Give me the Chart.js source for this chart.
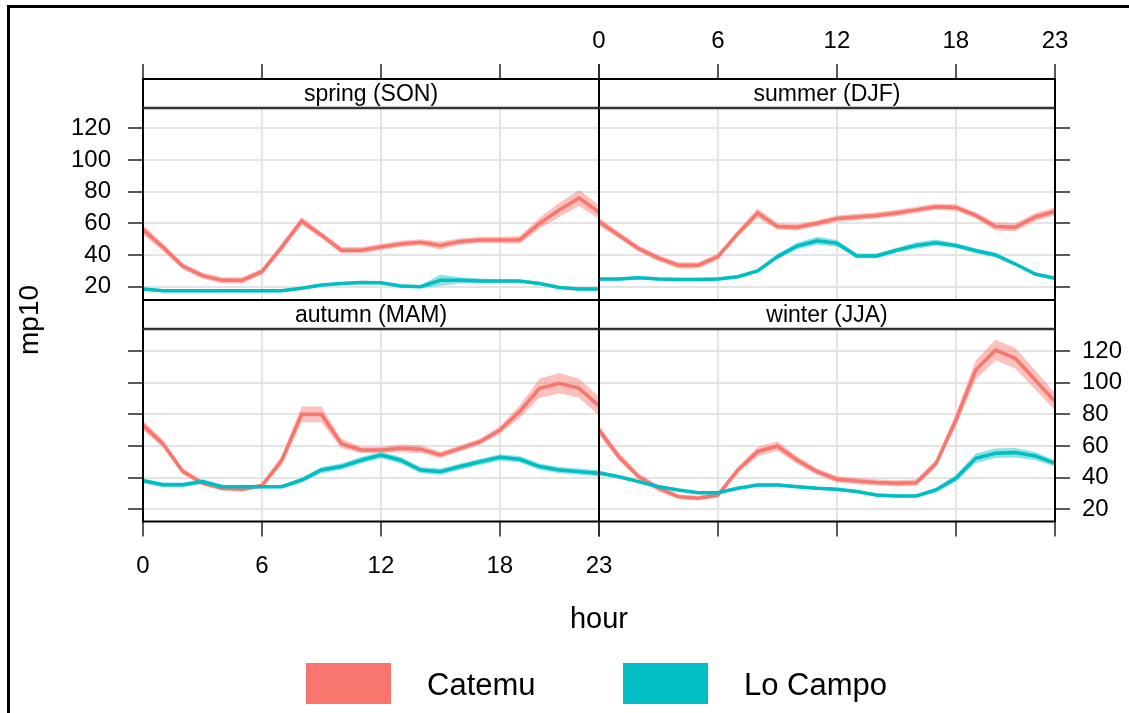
<!DOCTYPE html>
<html>
<head>
<meta charset="utf-8">
<script src="https://cdn.jsdelivr.net/npm/chart.js@4.4.1/dist/chart.umd.min.js"></script>
<style>
  body { margin: 0; width: 1129px; height: 713px; overflow: hidden; background: #fff;
         position: relative; font-family: "Liberation Sans", Arial, sans-serif; color: #000; }
  canvas { position: absolute; left: 0; top: 0; }
  .frame { position: absolute; left: 7px; top: 5px; width: 1300px; height: 900px; border: 3px solid #000; }
  .ytitle { position: absolute; left: 29px; top: 320px; font-size: 28px; line-height: 34px;
            white-space: nowrap; transform: translate(-50%, -50%) rotate(-90deg); }
  .xtitle { position: absolute; left: 0; width: 1198px; top: 601px; font-size: 29px;
            line-height: 34px; text-align: center; }
  .key { position: absolute; top: 663px; width: 85px; height: 41px; }
  .keytext { position: absolute; top: 667px; font-size: 31px; line-height: 36px; white-space: nowrap; }
</style>
</head>
<body>
<div class="frame"></div>
<canvas id="spring" width="1129" height="713"></canvas>
<canvas id="summer" width="1129" height="713"></canvas>
<canvas id="autumn" width="1129" height="713"></canvas>
<canvas id="winter" width="1129" height="713"></canvas>
<div class="ytitle">mp10</div>
<div class="xtitle">hour</div>
<div class="key" style="left:306px;background:#F8766D"></div>
<div class="keytext" style="left:427px">Catemu</div>
<div class="key" style="left:623px;background:#00BFC4"></div>
<div class="keytext" style="left:744px">Lo Campo</div>

<script>
// hours 0..23
const hours = [0,1,2,3,4,5,6,7,8,9,10,11,12,13,14,15,16,17,18,19,20,21,22,23];
const hourTicks = [0, 6, 12, 18, 23];
const valueTicks = [20, 40, 60, 80, 100, 120];
const seriesNames = ["Catemu", "Lo Campo"];

// mean mp10 and half width of the shaded interval, per season and site
const springCatemu     = [56,45,33,27,24,24,29.5,45,61.5,52.5,43,43,45,47,48,46,48.5,49.5,49.5,49.5,60,68.5,76,67];
const springCatemuCi   = [3,2.5,2,2,2,2,2,2.5,2.5,2,2,2,2,2,2,2.5,2,2,2,2.5,3.5,4.5,5,4.5];
const springLoCampo    = [18.5,17.5,17.5,17.5,17.5,17.5,17.5,17.5,19,21,22,22.7,22.5,20.4,20,24,24,23.6,23.6,23.6,22,19.5,18.5,18.5];
const springLoCampoCi  = [1,1,1,1,1,1,1,1,1,1,1,1,1,1,1,3.5,2,1.5,1,1,1,1,1,1];

const summerCatemu     = [61,52.5,44,38,33.5,33.5,39,53.5,66.5,58,57.5,60,63,64,65,66.5,68.5,70.5,70,65,58,57.5,64,67.5];
const summerCatemuCi   = [2.5,2,2,2,2,2,2,2,3,2,2,2,2,2,2,2,2,2,2,2,2.5,2.5,2.5,2.5];
const summerLoCampo    = [24.8,24.8,25.7,24.8,24.6,24.6,24.8,26.3,30,39,45.7,49,47.4,39.4,39.4,43,46,47.8,46,42.7,40,34.3,28,25.3];
const summerLoCampoCi  = [1,1,1,1,1,1,1,1,1,1.5,2,2.5,2,1.5,1.5,1.5,2,2,1.5,1.5,1.5,1,1,1];

const autumnCatemu     = [73,61.5,44,36.5,33.3,32.6,35,51,80,80,61.5,57.5,57.5,58.5,58,54.3,58.5,62.7,70,81.7,96.4,99.6,96.4,85.3];
const autumnCatemuCi   = [3,2.5,2,1.5,1.5,1.5,1.5,3,5,5,3,2,2,2.5,2.5,2,2,2,2.5,4,6,6.5,6,6];
const autumnLoCampo    = [38,35.5,35.5,37.5,34.3,34.3,34.3,34.3,38.5,44.8,47,51,54.3,51,44.8,43.8,47,50,52.8,51.6,47,44.8,43.8,42.7];
const autumnLoCampoCi  = [1.5,1.5,1.5,1.5,1,1,1,1,1.5,2,2,2,2,2,2,2,2,2,2,2,2,2,2,2];

const winterCatemu     = [70,53.3,40.6,33.3,28,27,29,44.8,56.4,60,51,43.8,39,37.9,37,36.4,36.8,49,76.4,108,120.6,115.4,101.7,88];
const winterCatemuCi   = [3,2.5,2,2,1.5,1.5,1.5,2,3,3,2.5,2,2,2,2,2,2,2.5,4,6,6.5,6.5,6,5.5];
const winterLoCampo    = [43,40.6,37.5,34.3,32.2,30.5,30.5,33.3,35.4,35.4,34.3,33.3,32.6,31.2,29,28.4,28.4,32.2,39.6,52.2,55.4,55.8,53.7,49];
const winterLoCampoCi  = [1.5,1,1,1,1,1,1,1,1,1,1,1,1,1,1,1,1,1.5,2,3,3,3,2.5,2];

const CAT_COL = "#F8766D", CAT_BAND = "rgba(248,118,109,0.45)";
const LC_COL = "#00BFC4", LC_BAND = "rgba(0,191,196,0.45)";

const W = 1129, H = 713;
const STRIP_H = 29, Y_W_LEFT = 95, Y_W_RIGHT = 74, X_H = 72;

Chart.defaults.font.family = '"Liberation Sans", Arial, sans-serif';
Chart.defaults.font.size = 24;
Chart.defaults.color = "#000";

function pts(vals, ci, sign) {
  return vals.map((v, i) => ({ x: hours[i], y: v + sign * ci[i] }));
}

function seriesSets(name, vals, ci, col, band) {
  const none = "rgba(0,0,0,0)";
  return [
    { label: name, data: pts(vals, ci, 0), borderColor: col, borderWidth: 3.5, pointRadius: 0, fill: false },
    { label: name + " upper", data: pts(vals, ci, 1), borderColor: none, backgroundColor: band, pointRadius: 0, fill: "+1" },
    { label: name + " lower", data: pts(vals, ci, -1), borderColor: none, pointRadius: 0, fill: false }
  ];
}

// strip with the season name, and the panel box
const stripPlugin = {
  id: "strip",
  beforeDatasetsDraw(chart, args, opts) {
    const { ctx, chartArea: a } = chart;
    ctx.save();
    ctx.fillStyle = "#fff";
    ctx.fillRect(a.left, a.top, a.right - a.left, STRIP_H);
    ctx.fillStyle = "#000";
    ctx.font = '23px "Liberation Sans", Arial, sans-serif';
    ctx.textAlign = "center";
    ctx.textBaseline = "middle";
    ctx.fillText(opts.text, (a.left + a.right) / 2, a.top + STRIP_H / 2 + 1);
    ctx.restore();
  },
  afterDatasetsDraw(chart) {
    const { ctx, chartArea: a } = chart;
    ctx.save();
    ctx.strokeStyle = "#000";
    ctx.lineWidth = 2;
    ctx.strokeRect(a.left, a.top, a.right - a.left, a.bottom - a.top);
    ctx.strokeStyle = "#333";
    ctx.lineWidth = 2.5;
    ctx.beginPath();
    ctx.moveTo(a.left, a.top + STRIP_H);
    ctx.lineTo(a.right, a.top + STRIP_H);
    ctx.stroke();
    ctx.restore();
  }
};

const panels = [
  { id: "spring", title: "spring (SON)", cat: springCatemu, catCi: springCatemuCi, lc: springLoCampo, lcCi: springLoCampoCi,
    xPos: "top", xLab: false, yPos: "left", yLab: true, area: [143, 79, 599, 300], yr: [11.6, 151.1] },
  { id: "summer", title: "summer (DJF)", cat: summerCatemu, catCi: summerCatemuCi, lc: summerLoCampo, lcCi: summerLoCampoCi,
    xPos: "top", xLab: true, yPos: "right", yLab: false, area: [599, 79, 1055, 300], yr: [11.6, 151.1] },
  { id: "autumn", title: "autumn (MAM)", cat: autumnCatemu, catCi: autumnCatemuCi, lc: autumnLoCampo, lcCi: autumnLoCampoCi,
    xPos: "bottom", xLab: true, yPos: "left", yLab: false, area: [143, 300, 599, 521.5], yr: [12.3, 152.2] },
  { id: "winter", title: "winter (JJA)", cat: winterCatemu, catCi: winterCatemuCi, lc: winterLoCampo, lcCi: winterLoCampoCi,
    xPos: "bottom", xLab: false, yPos: "right", yLab: true, area: [599, 300, 1055, 521.5], yr: [12.3, 152.2] }
];

panels.forEach(p => {
  const [l, t, r, b] = p.area;
  const yW = p.yPos === "left" ? Y_W_LEFT : Y_W_RIGHT;
  const padding = {
    left: p.yPos === "left" ? l - yW : l,
    right: p.yPos === "right" ? W - r - yW : W - r,
    top: p.xPos === "top" ? t - X_H : t,
    bottom: p.xPos === "bottom" ? H - b - X_H : H - b
  };
  const grid = { color: "#e4e4e4", lineWidth: 2, tickColor: "#222", tickWidth: 1.5, tickLength: 15 };

  new Chart(document.getElementById(p.id), {
    type: "line",
    data: {
      datasets: [
        ...seriesSets(seriesNames[1], p.lc, p.lcCi, LC_COL, LC_BAND),
        ...seriesSets(seriesNames[0], p.cat, p.catCi, CAT_COL, CAT_BAND)
      ]
    },
    options: {
      responsive: false,
      animation: false,
      events: [],
      layout: { padding },
      plugins: { legend: { display: false }, tooltip: { enabled: false }, strip: { text: p.title } },
      elements: { line: { tension: 0 } },
      scales: {
        x: {
          type: "linear", position: p.xPos, min: 0, max: 23,
          afterBuildTicks: s => { s.ticks = hourTicks.map(v => ({ value: v })); },
          afterFit: s => { s.height = X_H; },
          grid, border: { display: false },
          ticks: { display: p.xLab, padding: p.xPos === "top" ? 8 : 15, maxRotation: 0 }
        },
        y: {
          type: "linear", position: p.yPos, min: p.yr[0], max: p.yr[1],
          afterBuildTicks: s => { s.ticks = valueTicks.map(v => ({ value: v })); },
          afterFit: s => { s.width = yW; },
          grid, border: { display: false },
          ticks: { display: p.yLab, padding: p.yPos === "left" ? 17 : 12 }
        }
      }
    },
    plugins: [stripPlugin]
  });
});
</script>
</body>
</html>
